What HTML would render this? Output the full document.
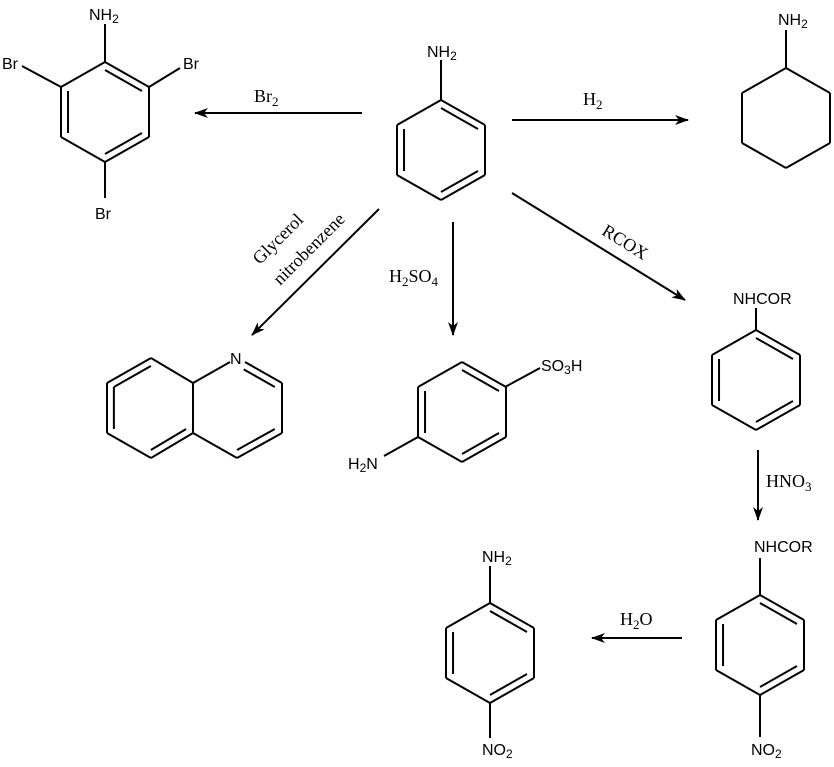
<!DOCTYPE html>
<html><head><meta charset="utf-8"><style>
html,body{margin:0;padding:0;background:#fff}
svg{display:block}
.a{font-family:"Liberation Sans",sans-serif;font-size:16px;fill:#000}
.t{font-family:"Liberation Serif",serif;font-size:18px;fill:#000}
</style></head><body>
<svg id="s" width="834" height="767" viewBox="0 0 834 767" xmlns="http://www.w3.org/2000/svg">
<defs><marker id="ar" markerWidth="14" markerHeight="10" refX="13" refY="5" orient="auto" markerUnits="userSpaceOnUse"><path d="M0,0 L14,5 L0,10 L4,5 Z" fill="#000"/></marker></defs>
<g id="b" stroke="#000" stroke-width="2" fill="none"></g>
<g stroke="#000" stroke-width="2" fill="none" marker-end="url(#ar)">
<line x1="362" y1="113" x2="195" y2="113"/>
<line x1="512" y1="120" x2="688" y2="120"/>
<line x1="379" y1="209" x2="252" y2="335"/>
<line x1="453" y1="222" x2="453" y2="335"/>
<line x1="512" y1="193" x2="685" y2="300"/>
<line x1="758" y1="450" x2="758" y2="520"/>
<line x1="682" y1="638" x2="592" y2="638"/>
</g>
<text class="a" x="89" y="20">NH<tspan font-size="12" dy="3">2</tspan></text>
<text class="a" x="2" y="69">Br</text>
<text class="a" x="183" y="69">Br</text>
<text class="a" x="95" y="219">Br</text>
<text class="t" x="254" y="102">Br<tspan font-size="13" dy="4">2</tspan></text>
<text class="a" x="427" y="57">NH<tspan font-size="12" dy="3">2</tspan></text>
<text class="t" x="583" y="105">H<tspan font-size="13" dy="4">2</tspan></text>
<text class="a" x="778" y="25">NH<tspan font-size="12" dy="3">2</tspan></text>
<text class="t" transform="translate(282,243) rotate(-45)" text-anchor="middle">Glycerol</text>
<text class="t" transform="translate(313,253) rotate(-45)" text-anchor="middle">nitrobenzene</text>
<text class="t" x="389" y="282">H<tspan font-size="13" dy="4">2</tspan><tspan dy="-4">SO</tspan><tspan font-size="13" dy="4">4</tspan></text>
<text class="t" transform="translate(622,247) rotate(32)" text-anchor="middle">RCOX</text>
<text class="a" x="230" y="364">N</text>
<text class="a" x="541" y="371">SO<tspan font-size="12" dy="3">3</tspan><tspan dy="-3">H</tspan></text>
<text class="a" x="348" y="469">H<tspan font-size="12" dy="3">2</tspan><tspan dy="-3">N</tspan></text>
<text class="a" x="733" y="304">NHCOR</text>
<text class="t" x="766" y="487">HNO<tspan font-size="13" dy="4">3</tspan></text>
<text class="a" x="754" y="552">NHCOR</text>
<text class="a" x="482" y="562">NH<tspan font-size="12" dy="3">2</tspan></text>
<text class="a" x="482" y="755">NO<tspan font-size="12" dy="3">2</tspan></text>
<text class="a" x="751" y="755">NO<tspan font-size="12" dy="3">2</tspan></text>
<text class="t" x="620" y="625">H<tspan font-size="13" dy="4">2</tspan><tspan dy="-4">O</tspan></text>
</svg>
<script>
(function(){
var g=document.getElementById('b');
function L(a,b,c,d){var l=document.createElementNS('http://www.w3.org/2000/svg','line');l.setAttribute('x1',a);l.setAttribute('y1',b);l.setAttribute('x2',c);l.setAttribute('y2',d);g.appendChild(l);}
var k=0.16;
function D(A,B,cx,cy){L(A[0]+(cx-A[0])*k,A[1]+(cy-A[1])*k,B[0]+(cx-B[0])*k,B[1]+(cy-B[1])*k);}
function hex(x,top,dbl){var p=[[x,top],[x+44,top+25],[x+44,top+75],[x,top+100],[x-44,top+75],[x-44,top+25]];
for(var i=0;i<6;i++){var A=p[i],B=p[(i+1)%6];L(A[0],A[1],B[0],B[1]);if(dbl.indexOf(i)>=0)D(A,B,x,top+50);}}
hex(105,62,[0,2,4]);L(105,24,105,62);L(22,66,61,87);L(149,87,180,68);L(105,162,105,198);
hex(441,100,[0,2,4]);L(441,60,441,100);
hex(786,68,[]);L(786,30,786,68);
var p=[[151,358],[193,383],[193,433],[151,458],[107,433],[107,383]];
for(var i=0;i<6;i++){var A=p[i],B=p[(i+1)%6];L(A[0],A[1],B[0],B[1]);}
D([107,383],[151,358],150,408);D([107,433],[107,383],150,408);D([193,433],[151,458],150,408);
L(193,383,230,362);L(245,362,282,383);L(282,383,282,433);L(282,433,237,458);L(237,458,193,433);
D([245,362],[282,383],237,408);D([282,433],[237,458],237,408);
hex(462,362,[0,2,4]);L(505,387,540,368);L(418,437,384,456);
hex(756,330,[0,2,4]);L(756,308,756,330);
hex(490,603,[0,2,4]);L(490,566,490,603);L(490,703,490,738);
hex(760,595,[0,2,4]);L(760,558,760,595);L(760,695,760,737);
})();
</script>
</body></html>
